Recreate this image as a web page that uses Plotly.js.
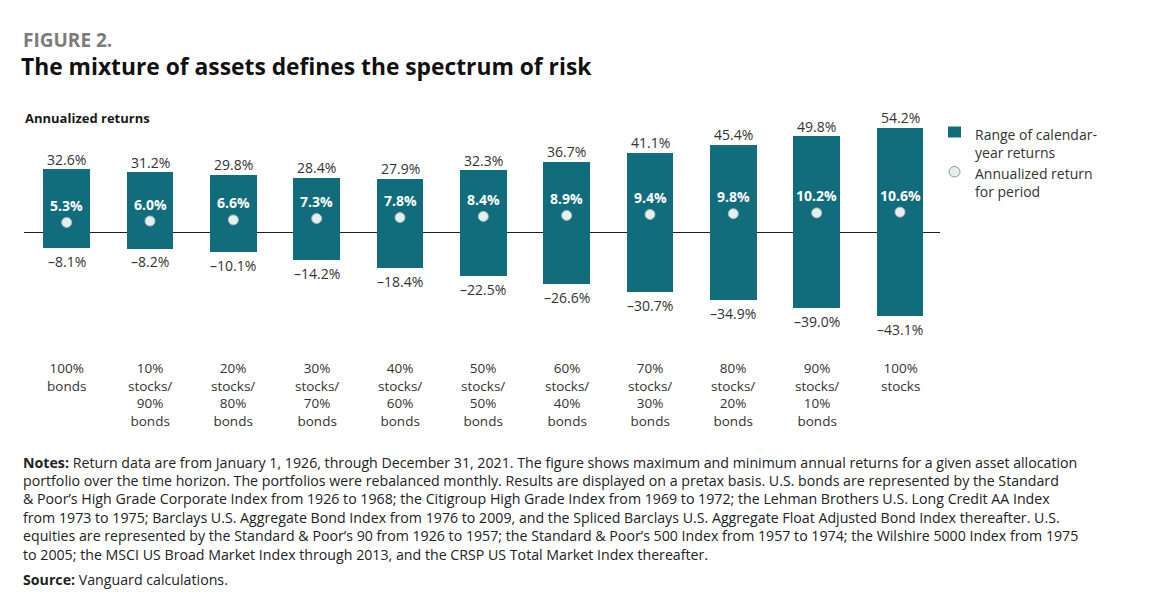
<!DOCTYPE html>
<html>
<head>
<meta charset="utf-8">
<script src="https://cdn.plot.ly/plotly-3.0.1.min.js"></script>
<style>
  html, body { margin: 0; padding: 0; background: #ffffff; }
  #chart { width: 1170px; height: 611px; }
</style>
</head>
<body>
<div id="chart"></div>
<script>
// ---------------- data ----------------
const categories = [
  "100%<br>bonds",
  "10%<br>stocks/<br>90%<br>bonds",
  "20%<br>stocks/<br>80%<br>bonds",
  "30%<br>stocks/<br>70%<br>bonds",
  "40%<br>stocks/<br>60%<br>bonds",
  "50%<br>stocks/<br>50%<br>bonds",
  "60%<br>stocks/<br>40%<br>bonds",
  "70%<br>stocks/<br>30%<br>bonds",
  "80%<br>stocks/<br>20%<br>bonds",
  "90%<br>stocks/<br>10%<br>bonds",
  "100%<br>stocks"
];
const maxReturns = [32.6, 31.2, 29.8, 28.4, 27.9, 32.3, 36.7, 41.1, 45.4, 49.8, 54.2];
const minReturns = [-8.1, -8.2, -10.1, -14.2, -18.4, -22.5, -26.6, -30.7, -34.9, -39.0, -43.1];
const annualized = [5.3, 6.0, 6.6, 7.3, 7.8, 8.4, 8.9, 9.4, 9.8, 10.2, 10.6];

const figureLabel = "FIGURE 2.";
const titleText = "The mixture of assets defines the spectrum of risk";
const yLabel = "Annualized returns";
const legendRange = "Range of calendar-<br>year returns";
const legendDot = "Annualized return<br>for period";
const notesLines = [
  "<b>Notes:</b> Return data are from January 1, 1926, through December 31, 2021. The figure shows maximum and minimum annual returns for a given asset allocation",
  "portfolio over the time horizon. The portfolios were rebalanced monthly. Results are displayed on a pretax basis. U.S. bonds are represented by the Standard",
  "& Poor\u2019s High Grade Corporate Index from 1926 to 1968; the Citigroup High Grade Index from 1969 to 1972; the Lehman Brothers U.S. Long Credit AA Index",
  "from 1973 to 1975; Barclays U.S. Aggregate Bond Index from 1976 to 2009, and the Spliced Barclays U.S. Aggregate Float Adjusted Bond Index thereafter. U.S.",
  "equities are represented by the Standard & Poor\u2019s 90 from 1926 to 1957; the Standard & Poor\u2019s 500 Index from 1957 to 1974; the Wilshire 5000 Index from 1975",
  "to 2005; the MSCI US Broad Market Index through 2013, and the CRSP US Total Market Index thereafter."
];
const sourceText = "<b>Source:</b> Vanguard calculations.";

// ---------------- styling ----------------
const TEAL = "#116c7b";
const FONT = "Open Sans, Lato, DejaVu Sans, sans-serif";
const W = 1170, H = 611;
const PL = 24, PR = 940, PT = 100, PB = 340;
const px = x => (x - PL) / (PR - PL);
const py = y => (PB - y) / (PB - PT);
const fmt = v => (v < 0 ? "\u2013" + Math.abs(v).toFixed(1) : v.toFixed(1)) + "%";

const barTrace = {
  type: "bar",
  x: categories,
  y: maxReturns.map((m, i) => m - minReturns[i]),
  base: minReturns,
  width: 0.56,
  marker: { color: TEAL, line: { width: 0 } },
  hoverinfo: "skip",
  showlegend: false
};
const dotTrace = {
  type: "scatter",
  mode: "markers",
  x: categories,
  y: annualized,
  marker: { size: 10, color: "#e6eeee", line: { color: "#a7b9bc", width: 1 } },
  hoverinfo: "skip",
  showlegend: false
};

const annotations = [];
categories.forEach((c, i) => {
  annotations.push({ x: c, y: maxReturns[i], xref: "x", yref: "y", text: fmt(maxReturns[i]),
    showarrow: false, yanchor: "middle", yshift: 10, font: { family: FONT, size: 14, color: "#333" } });
  annotations.push({ x: c, y: minReturns[i], xref: "x", yref: "y", text: fmt(minReturns[i]),
    showarrow: false, yanchor: "middle", yshift: -13, font: { family: FONT, size: 14, color: "#333" } });
  annotations.push({ x: c, y: annualized[i], xref: "x", yref: "y", text: "<b>" + fmt(annualized[i]) + "</b>",
    showarrow: false, yanchor: "middle", yshift: 17, font: { family: FONT, size: 14, color: "#ffffff" } });
  annotations.push({ x: c, y: py(357), xref: "x", yref: "paper", text: c,
    showarrow: false, yanchor: "top", align: "center", font: { family: FONT, size: 13.5, color: "#333" } });
});

annotations.push({ xref: "paper", yref: "paper", x: px(21), y: py(40), xanchor: "left", yanchor: "middle",
  text: "<b>" + figureLabel + "</b>", showarrow: false, font: { family: FONT, size: 19, color: "#7b7b7b" } });
annotations.push({ xref: "paper", yref: "paper", x: px(23), y: py(118), xanchor: "left", yanchor: "middle",
  text: "<b>" + yLabel + "</b>", showarrow: false, font: { family: FONT, size: 13, color: "#1a1a1a" } });
annotations.push({ xref: "paper", yref: "paper", x: px(973), y: py(123), xanchor: "left", yanchor: "top",
  text: legendRange, align: "left", showarrow: false, font: { family: FONT, size: 14, color: "#333" } });
annotations.push({ xref: "paper", yref: "paper", x: px(973), y: py(162), xanchor: "left", yanchor: "top",
  text: legendDot, align: "left", showarrow: false, font: { family: FONT, size: 14, color: "#333" } });

notesLines.forEach((t, i) => {
  annotations.push({ xref: "paper", yref: "paper", x: px(21), y: py(462 + i * 18.4), xanchor: "left", yanchor: "middle",
    text: t, showarrow: false, font: { family: FONT, size: 14.2, color: "#222" } });
});
annotations.push({ xref: "paper", yref: "paper", x: px(21), y: py(579), xanchor: "left", yanchor: "middle",
  text: sourceText, showarrow: false, font: { family: FONT, size: 14.2, color: "#222" } });

const shapes = [
  { type: "rect", xref: "paper", yref: "paper", x0: px(948), x1: px(961), y0: py(137.5), y1: py(126.5),
    fillcolor: TEAL, line: { width: 0 } },
  { type: "circle", xref: "paper", yref: "paper", x0: px(949), x1: px(960), y0: py(177), y1: py(166.5),
    fillcolor: "#e6eeee", line: { color: "#8a9a9d", width: 1 } }
];

const layout = {
  width: W, height: H,
  margin: { l: PL, r: W - PR, t: PT, b: H - PB, pad: 0 },
  paper_bgcolor: "#ffffff",
  plot_bgcolor: "#ffffff",
  title: { text: "<b>" + titleText + "</b>", xref: "container", yref: "container",
    x: 21 / W, xanchor: "left", y: 1 - 67 / H, yanchor: "middle",
    font: { family: FONT, size: 22.8, color: "#111" } },
  xaxis: { type: "category", range: [-0.512, 10.48], showgrid: false, zeroline: false,
    showticklabels: false, ticks: "", showline: false, fixedrange: true },
  yaxis: { range: [-55.3, 68.4], showgrid: false, zeroline: true, zerolinecolor: "#222",
    zerolinewidth: 1, showticklabels: false, ticks: "", showline: false, fixedrange: true },
  bargap: 0,
  annotations: annotations,
  shapes: shapes,
  showlegend: false
};

Plotly.newPlot("chart", [barTrace, dotTrace], layout, { displayModeBar: false, staticPlot: true });
</script>
</body>
</html>
